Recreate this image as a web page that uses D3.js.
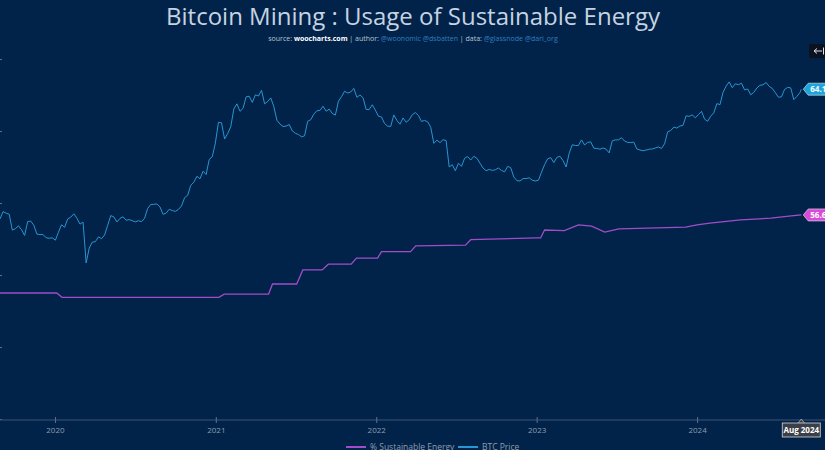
<!DOCTYPE html>
<html>
<head>
<meta charset="utf-8">
<script src="https://cdn.jsdelivr.net/npm/d3@7"></script>
<style>
html,body{margin:0;padding:0;background:#012349;overflow:hidden;}
svg{display:block;font-family:"Open Sans",sans-serif;}
</style>
</head>
<body>
<svg id="chart" width="825" height="450"></svg>
<script>
// ---------- DATA ----------
const title = "Bitcoin Mining : Usage of Sustainable Energy";
const yearTicks = ["2020-01-01","2021-01-01","2022-01-01","2023-01-01","2024-01-01"];
const yearLabels = ["2020","2021","2022","2023","2024"];
const pctTicks = [0,20,40,60,80,100];
const seriesNames = ["% Sustainable Energy","BTC Price"];

// BTC price, weekly (Thursdays) starting 2019-08-29
const btcStart = "2019-08-29";
const btcWeekly = [
 9500,10580,10350,10180,8060,8230,8590,8100,7450,9150,9200,8650,7600,7550,7550,7200,7150,7200,
 6950,7820,8720,8400,9500,9750,10250,9600,8800,9070,4970,6190,6750,6800,7300,7100,7500,8650,9980,9790,
 9080,9580,9800,9320,9410,9250,9100,9250,9130,9600,11100,11760,11770,11860,11330,10170,10340,10950,10750,10620,
 10930,11500,12990,13460,15590,16300,17800,17150,19200,18250,22800,23730,29000,
 39400,39100,30800,33400,36900,47900,51700,46300,48400,57300,57800,52800,59000,58000,63100,51700,53500,56400,49700,40600,
 38400,37000,37300,38100,34700,33500,32900,31800,32300,40000,40900,44400,46700,46900,49900,46400,47800,44900,43800,53800,
 57400,62200,60600,61500,64900,56900,58900,56500,47600,47600,51000,47100,
 43100,42600,38700,37200,37100,43900,40500,38300,42000,39400,40900,44000,45500,43500,39900,40500,39700,36600,28900,30300,
 29200,30500,30100,20400,21100,19300,21600,20600,23200,23800,22600,23900,23200,21600,20100,19300,19700,19400,19600,20100,
 19400,19000,20600,20200,17600,16700,16600,17200,17200,17400,16800,16600,
 16800,18900,21100,23000,23400,21800,23500,23900,22400,20400,25000,28300,28000,28000,30400,28200,29300,29500,26900,26800,
 26500,27000,26500,25100,30000,30400,30400,31400,29900,29300,29200,29400,26600,26200,25900,26200,26500,26600,27000,27400,
 26800,28700,34200,34900,36700,36200,37300,37700,43300,43000,43900,42100,
 44100,46300,41300,40000,43100,45300,51900,51000,61200,67000,71400,65500,69500,68500,70000,63500,64300,59100,61200,65300,
 67900,68400,70800,66800,64900,60900,57000,57300,63900,65800,65400,55000,57600,61000
];
const btcLastDate = "2024-08-25";
const btcLastValue = 64120;

// % Sustainable energy (breakpoints)
const energyDates = ["2019-08-29","2020-01-05","2020-01-17","2021-01-08","2021-01-20","2021-05-01","2021-05-10",
 "2021-07-04","2021-07-18","2021-08-31","2021-09-14","2021-11-05","2021-11-17","2022-01-04","2022-01-13",
 "2022-03-20","2022-04-01","2022-07-23","2022-08-04","2023-01-01","2023-01-10","2023-01-19","2023-03-05",
 "2023-04-06","2023-05-06","2023-06-05","2023-07-07","2023-12-06","2024-01-01","2024-01-30","2024-04-09",
 "2024-06-17","2024-08-02","2024-08-25"];
const energyValues = [35.0,35.0,33.8,33.8,34.7,34.7,37.5,37.5,41.4,41.4,43.0,43.0,44.7,44.7,46.5,
 46.5,48.1,48.3,49.8,50.3,50.3,52.5,52.3,53.9,53.6,51.9,52.8,53.3,53.9,54.4,55.3,55.8,56.4,56.68];

const crosshairLabel = "Aug 2024";

// ---------- CHART ----------
const W = 825, H = 450;
const parse = d3.utcParse("%Y-%m-%d");
const svg = d3.select("#chart");
const colBtc = "#2796d2", colPct = "#a24cc8";

const x = d3.scaleUtc().domain([parse("2019-08-29"), parse("2024-10-18")]).range([0, W]);
const yPct = d3.scaleLinear().domain([0, 100]).range([419, 59]);
const yBtc = d3.scaleLog().domain([500, 100000]).range([419, 59]);

const btcData = btcWeekly.map((v, i) => ({d: d3.utcDay.offset(parse(btcStart), 7 * i), v}));
btcData.push({d: parse(btcLastDate), v: btcLastValue});
const pctData = energyDates.map((s, i) => ({d: parse(s), v: energyValues[i]}));

// title
svg.append("text").attr("x", 413).attr("y", 25).attr("text-anchor", "middle")
  .attr("font-size", 24).attr("fill", "#c6d3e1").text(title);
const sub = svg.append("text").attr("x", 413).attr("y", 41).attr("text-anchor", "middle")
  .attr("font-size", 7).attr("fill", "#b9c6d4");
sub.append("tspan").text("source: ");
sub.append("tspan").attr("font-weight", "bold").attr("fill", "#ffffff").text("woocharts.com");
sub.append("tspan").text(" | author: ");
sub.append("tspan").attr("fill", "#2f7fc0").text("@woonomic @dsbatten");
sub.append("tspan").text(" | data: ");
sub.append("tspan").attr("fill", "#2f7fc0").text("@glassnode @dari_org");

// top-right button (arrow to bar)
svg.append("rect").attr("x", 809).attr("y", 44).attr("width", 22).attr("height", 14).attr("rx", 2).attr("fill", "#0b1220");
svg.append("path").attr("d", "M814,51 H822 M814,51 L817,48.5 M814,51 L817,53.5 M823.5,47.5 V54.5")
  .attr("stroke", "#e2e6ea").attr("stroke-width", 1).attr("fill", "none");

// left ticks
const yAxisL = d3.axisLeft(yPct).tickValues(pctTicks).tickSize(2).tickFormat("");
const gL = svg.append("g").attr("transform", "translate(2,0)").call(yAxisL);
gL.select(".domain").remove();
gL.selectAll("line").attr("stroke", "#5d708a");

// x axis
const xAxis = d3.axisBottom(x).tickValues(yearTicks.map(parse)).tickSize(3)
  .tickFormat((d, i) => yearLabels[i]);
const gx = svg.append("g").attr("transform", "translate(0,420)").call(xAxis);
gx.select(".domain").attr("stroke", "#3e5676").attr("d", "M0,0H825");
gx.selectAll(".tick line").attr("stroke", "#5d708a").attr("y1", -3);
gx.selectAll(".tick text").attr("fill", "#8d9db0").attr("font-size", 8).attr("font-family", "Open Sans, sans-serif").attr("dy", "0.9em");

// lines
svg.append("path").datum(pctData).attr("fill", "none").attr("stroke", colPct).attr("stroke-width", 1.3)
  .attr("d", d3.line().x(d => x(d.d)).y(d => yPct(d.v)));
svg.append("path").datum(btcData).attr("fill", "none").attr("stroke", colBtc).attr("stroke-width", 1)
  .attr("stroke-linejoin", "round")
  .attr("d", d3.line().x(d => x(d.d)).y(d => yBtc(d.v)));

// value labels
function valueLabel(px, py, fill, txt) {
  const g = svg.append("g").attr("transform", `translate(${px},${py})`);
  g.append("path").attr("d", "M0,0 L5,-6 H45 V6 H5 Z").attr("fill", fill).attr("stroke", "#e8eef5").attr("stroke-width", 0.6);
  g.append("text").attr("x", 7).attr("y", 3).attr("font-size", 8).attr("font-weight", "bold").attr("fill", "#ffffff").text(txt);
}
const lastB = btcData[btcData.length - 1], lastP = pctData[pctData.length - 1];
valueLabel(x(lastB.d) + 2, yBtc(lastB.v), "#1ea5dc", d3.format(".2f")(lastB.v / 1000) + "k");
valueLabel(x(lastP.d) + 2, yPct(lastP.v), "#d94ad9", d3.format(".2f")(lastP.v) + "%");

// crosshair label
const cx = x(parse(btcLastDate));
svg.append("path").attr("d", `M${cx - 4},424 L${cx},419 L${cx + 4},424 Z`).attr("fill", "#3a3f48").attr("stroke", "#d8d8d8").attr("stroke-width", 0.6);
svg.append("rect").attr("x", cx - 19).attr("y", 423).attr("width", 38).attr("height", 14).attr("fill", "#3a3f48").attr("stroke", "#d8d8d8").attr("stroke-width", 0.8);
svg.append("text").attr("x", cx).attr("y", 433).attr("text-anchor", "middle").attr("font-size", 8)
  .attr("font-weight", "bold").attr("fill", "#ffffff").text(crosshairLabel);

// legend
const leg = [{x: 346, c: colPct, t: seriesNames[0]}, {x: 458, c: colBtc, t: seriesNames[1]}];
leg.forEach(l => {
  svg.append("line").attr("x1", l.x).attr("x2", l.x + 20).attr("y1", 447).attr("y2", 447).attr("stroke", l.c).attr("stroke-width", 2);
  svg.append("text").attr("x", l.x + 24).attr("y", 450).attr("font-size", 8.5).attr("fill", "#8d9db0").text(l.t);
});
</script>
</body>
</html>
